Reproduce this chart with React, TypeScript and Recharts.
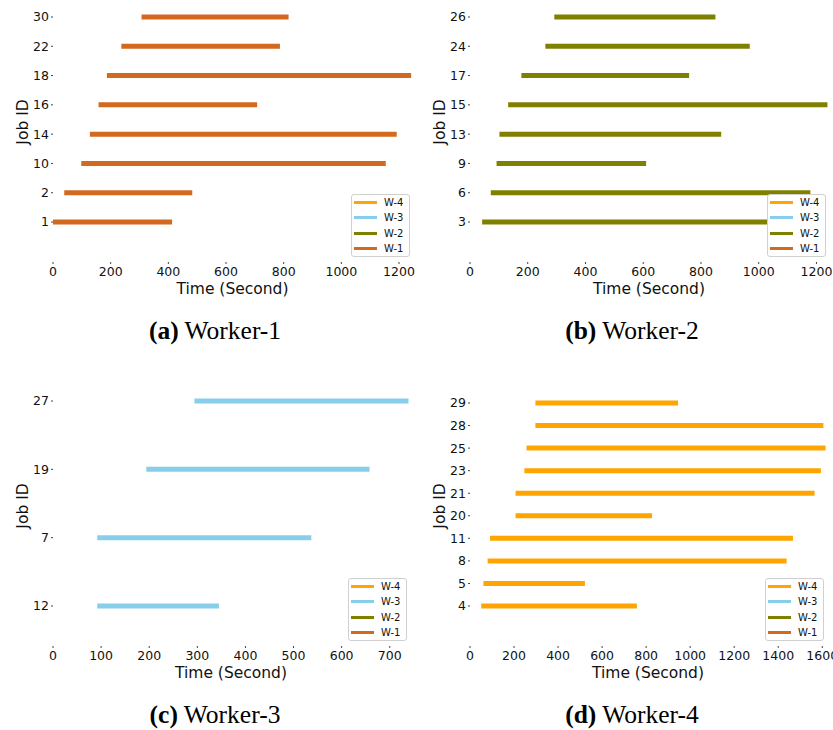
import React from "react";
import { LineChart, Line, XAxis, YAxis, Legend } from "recharts";

// legend entries, top to bottom
const WORKERS = ["W-4", "W-3", "W-2", "W-1"];
const WORKER_COLORS = ["#FFA500", "#87CEEB", "#808000", "#D2691E"];

// jobs per worker, listed bottom -> top, times in seconds
const w1Jobs = ["1", "2", "10", "14", "16", "18", "22", "30"];
const w1Start = [0, 39, 98, 128, 158, 187, 237, 307];
const w1End = [413, 483, 1154, 1192, 708, 1242, 787, 817];
const w1Ticks = [0, 200, 400, 600, 800, 1000, 1200];

const w2Jobs = ["3", "6", "9", "13", "15", "17", "24", "26"];
const w2Start = [42, 72, 92, 102, 132, 178, 261, 292];
const w2End = [1090, 1179, 610, 870, 1238, 759, 969, 850];
const w2Ticks = [0, 200, 400, 600, 800, 1000, 1200];

const w3Jobs = ["12", "7", "19", "27"];
const w3Start = [92, 92, 194, 294];
const w3End = [345, 537, 658, 739];
const w3Ticks = [0, 100, 200, 300, 400, 500, 600, 700];

const w4Jobs = ["4", "5", "8", "11", "20", "21", "23", "25", "28", "29"];
const w4Start = [51, 61, 80, 91, 207, 207, 247, 257, 297, 297];
const w4End = [758, 522, 1438, 1467, 827, 1565, 1594, 1615, 1605, 945];
const w4Ticks = [0, 200, 400, 600, 800, 1000, 1200, 1400, 1600];

const FONT = "'DejaVu Sans', sans-serif";

const WorkerLegend = () => (
  <div
    style={{
      width: 59,
      height: 63,
      boxSizing: "border-box",
      border: "1px solid #d0d0d0",
      borderRadius: 3,
      background: "#fff",
      fontFamily: FONT,
      fontSize: 10,
      color: "#111",
    }}
  >
    {WORKERS.map((w, i) => (
      <div key={w} style={{ display: "flex", alignItems: "center", height: 15.3 }}>
        <div style={{ width: 23, height: 3, marginLeft: 2, marginRight: 7, background: WORKER_COLORS[i] }} />
        <span>{w}</span>
      </div>
    ))}
  </div>
);

interface PanelProps {
  jobs: string[];
  start: number[];
  end: number[];
  ticks: number[];
  xMax: number;
  color: string;
  left: number;
  top: number;
  right: number;
  padTop: number;
  padBottom: number;
  tag: string;
  title: string;
}

function WorkerPanel(p: PanelProps) {
  const W = 416;
  const H = 300;
  const plotRight = W - p.right;
  const rows = p.jobs.map((_, i) => i);

  return (
    <>
      <div style={{ position: "absolute", left: p.left, top: p.top, width: W, height: H }}>
        <LineChart width={W} height={H} margin={{ top: 8, right: p.right, bottom: 0, left: 0 }}>
          <XAxis
            type="number"
            dataKey="t"
            domain={[0, p.xMax]}
            allowDataOverflow
            ticks={p.ticks}
            interval={0}
            height={38}
            axisLine={false}
            tickSize={2}
            tickMargin={3}
            tickLine={{ stroke: "#444" }}
            tick={{ fill: "#111", fontSize: 12.5, fontFamily: FONT }}
            label={(props: any) => {
              const vb = props.viewBox;
              return (
                <text
                  x={vb.x + vb.width / 2}
                  y={vb.y + 27}
                  textAnchor="middle"
                  dominantBaseline="central"
                  fill="#111"
                  fontSize={15.5}
                  fontFamily={FONT}
                >
                  Time (Second)
                </text>
              );
            }}
          />
          <YAxis
            type="number"
            dataKey="y"
            domain={[0, p.jobs.length - 1]}
            ticks={rows}
            interval={0}
            tickFormatter={(v: number) => p.jobs[v]}
            padding={{ top: p.padTop, bottom: p.padBottom }}
            width={53}
            axisLine={false}
            tickSize={2}
            tickMargin={2}
            tickLine={{ stroke: "#444" }}
            tick={{ fill: "#111", fontSize: 12.5, fontFamily: FONT }}
            label={(props: any) => {
              const vb = props.viewBox;
              const cx = vb.x + vb.width - 30;
              const cy = vb.y + 114;
              return (
                <text
                  x={cx}
                  y={cy}
                  transform={`rotate(-90, ${cx}, ${cy})`}
                  textAnchor="middle"
                  dominantBaseline="central"
                  fill="#111"
                  fontSize={15.5}
                  fontFamily={FONT}
                >
                  Job ID
                </text>
              );
            }}
          />
          {rows.map((i) => (
            <Line
              key={p.jobs[i]}
              data={[
                { t: p.start[i], y: i },
                { t: p.end[i], y: i },
              ]}
              dataKey="y"
              stroke={p.color}
              strokeWidth={5}
              dot={false}
              activeDot={false}
              isAnimationActive={false}
            />
          ))}
          <Legend
            layout="horizontal"
            align="center"
            verticalAlign="middle"
            content={() => <WorkerLegend />}
            wrapperStyle={{ left: plotRight - 61, top: 194, width: 59, height: 63 }}
          />
        </LineChart>
      </div>
      <div
        style={{
          position: "absolute",
          left: p.left + 215 - 150,
          top: p.top + 316,
          width: 300,
          textAlign: "center",
          fontFamily: "'Liberation Serif', 'Times New Roman', serif",
          fontSize: 25.5,
          lineHeight: "30px",
          color: "#000",
        }}
      >
        <b>({p.tag})</b> {p.title}
      </div>
    </>
  );
}

export default function App() {
  return (
    <div style={{ position: "absolute", left: 0, top: 0, width: 833, height: 730, background: "#fff" }}>
      <WorkerPanel
        jobs={w1Jobs} start={w1Start} end={w1End} ticks={w1Ticks} xMax={1245}
        color={WORKER_COLORS[3]} left={0} top={0} right={4} padTop={9} padBottom={40}
        tag="a" title="Worker-1"
      />
      <WorkerPanel
        jobs={w2Jobs} start={w2Start} end={w2End} ticks={w2Ticks} xMax={1240}
        color={WORKER_COLORS[2]} left={417} top={0} right={5} padTop={9} padBottom={40}
        tag="b" title="Worker-2"
      />
      <WorkerPanel
        jobs={w3Jobs} start={w3Start} end={w3End} ticks={w3Ticks} xMax={740}
        color={WORKER_COLORS[1]} left={0} top={384} right={7} padTop={9} padBottom={40}
        tag="c" title="Worker-3"
      />
      <WorkerPanel
        jobs={w4Jobs} start={w4Start} end={w4End} ticks={w4Ticks} xMax={1617}
        color={WORKER_COLORS[0]} left={417} top={384} right={7} padTop={11} padBottom={40}
        tag="d" title="Worker-4"
      />
    </div>
  );
}
